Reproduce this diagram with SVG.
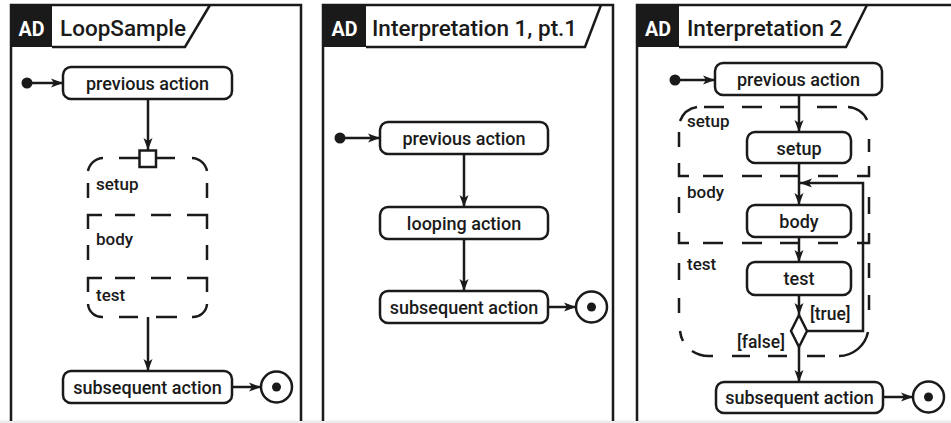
<svg xmlns="http://www.w3.org/2000/svg" width="951" height="423" viewBox="0 0 951 423">
  <style>
    .frame { fill: none; stroke: #1a1a1a; stroke-width: 2.5; }
    .tab { fill: none; stroke: #1a1a1a; stroke-width: 2.5; }
    .badge { fill: #1a1a1a; }
    .badge-t { font-family: Roboto, "Liberation Sans", Arial, sans-serif; font-weight: 700; font-size: 21px; fill: #fff; text-anchor: middle; }
    .title { font-family: Roboto, "Liberation Sans", Arial, sans-serif; font-weight: 500; font-size: 22.5px; fill: #1a1a1a; }
    .act rect { fill: #fff; stroke: #1a1a1a; stroke-width: 2.5; }
    .act text { font-family: Roboto, "Liberation Sans", Arial, sans-serif; font-weight: 500; font-size: 18px; fill: #1a1a1a; text-anchor: middle; }
    .lbl { font-family: Roboto, "Liberation Sans", Arial, sans-serif; font-weight: 500; font-size: 17px; fill: #1a1a1a; }
    .guard { font-family: Roboto, "Liberation Sans", Arial, sans-serif; font-weight: 500; font-size: 17.5px; fill: #1a1a1a; }
    .edge { fill: none; stroke: #1a1a1a; stroke-width: 2.5; marker-end: url(#arr); }
    .dash { fill: none; stroke: #1a1a1a; stroke-width: 2.5; }
    .start { fill: #1a1a1a; }
    .final circle.ring { fill: #fff; stroke: #1a1a1a; stroke-width: 2.5; }
    .final circle.dot { fill: #1a1a1a; }
  </style>
  <defs>
    <marker id="arr" markerUnits="userSpaceOnUse" markerWidth="12" markerHeight="10" refX="12" refY="5" orient="auto">
      <path d="M0,0.5 L12,5 L0,9.5 L3,5 Z" fill="#1a1a1a"/>
    </marker>
  </defs>

  <rect x="0" y="0" width="951" height="423" fill="#fff"/>
  <rect x="0" y="420.5" width="951" height="2.5" fill="#ececec"/>

  <!-- ===== Frame 1: LoopSample ===== -->
  <g id="frame-loopsample">
    <path class="frame" d="M11,421 V5 H301 V421"/>
    <rect class="badge" x="11" y="5" width="41" height="42"/>
    <text class="badge-t" x="31.5" y="36" textLength="26" lengthAdjust="spacingAndGlyphs">AD</text>
    <path class="tab" d="M52,47 H185 L210,5"/>
    <text class="title" x="60" y="36">LoopSample</text>
  </g>

  <g id="ls-start"><circle class="start" cx="27" cy="83" r="5.5"/></g>
  <g id="ls-previous" class="act">
    <rect x="63" y="67" width="169" height="32" rx="8"/>
    <text x="147.5" y="90">previous action</text>
  </g>
  <g id="ls-loopnode">
    <!-- setup section -->
    <path class="dash" d="M88,171 A16,16 0 0 1 103,158 M119,158 H139 M156,158 H175 M192,158 A16,16 0 0 1 207,171 M88,183 V198 M207,183 V198"/>
    <rect x="139.5" y="150.5" width="16.5" height="16.5" fill="#fff" stroke="#1a1a1a" stroke-width="2.5"/>
    <text class="lbl" x="96" y="190">setup</text>
    <!-- body section -->
    <path class="dash" d="M88,229 V215 H102 M115,215 H135 M151,215 H171 M187,215 H207 V229 M88,245 V260 M207,245 V260"/>
    <text class="lbl" x="96" y="245">body</text>
    <!-- test section -->
    <path class="dash" d="M88,292 V278 H102 M115,278 H135 M151,278 H171 M187,278 H207 V292 M88,304 A14,14 0 0 0 103,317 M119,317 H138 M156,317 H177 M192,317 A14,14 0 0 0 207,304"/>
    <text class="lbl" x="96" y="301">test</text>
  </g>
  <g id="ls-subsequent" class="act">
    <rect x="63" y="371" width="169" height="32" rx="8"/>
    <text x="147.5" y="394">subsequent action</text>
  </g>
  <g id="ls-final" class="final">
    <circle class="ring" cx="276.5" cy="387" r="15.5"/>
    <circle class="dot" cx="276.5" cy="387" r="4.5"/>
  </g>

  <!-- ===== Frame 2: Interpretation 1 ===== -->
  <g id="frame-interp1">
    <path class="frame" d="M323,421 V5 H613 V421"/>
    <rect class="badge" x="323" y="5" width="43" height="42"/>
    <text class="badge-t" x="344.5" y="36" textLength="26" lengthAdjust="spacingAndGlyphs">AD</text>
    <path class="tab" d="M366,47 H585 L601,5"/>
    <text class="title" x="372" y="36">Interpretation 1, pt.1</text>
  </g>

  <g id="i1-start"><circle class="start" cx="340" cy="138" r="5.5"/></g>
  <g id="i1-previous" class="act">
    <rect x="380" y="122" width="168" height="32" rx="8"/>
    <text x="464" y="145">previous action</text>
  </g>
  <g id="i1-looping" class="act">
    <rect x="380" y="207" width="168" height="32" rx="8"/>
    <text x="464" y="230">looping action</text>
  </g>
  <g id="i1-subsequent" class="act">
    <rect x="380" y="291" width="168" height="32" rx="8"/>
    <text x="464" y="314">subsequent action</text>
  </g>
  <g id="i1-final" class="final">
    <circle class="ring" cx="591.5" cy="307" r="15.5"/>
    <circle class="dot" cx="591.5" cy="307" r="4.5"/>
  </g>

  <!-- ===== Frame 3: Interpretation 2 ===== -->
  <g id="frame-interp2">
    <path class="frame" d="M637,421 V5 H953"/>
    <rect class="badge" x="637" y="5" width="42" height="42"/>
    <text class="badge-t" x="658" y="36" textLength="26" lengthAdjust="spacingAndGlyphs">AD</text>
    <path class="tab" d="M679,47 H846 L867,5"/>
    <text class="title" x="687" y="36">Interpretation 2</text>
  </g>

  <g id="i2-loopnode">
    <!-- setup region -->
    <path class="dash" d="M680,121 A22,22 0 0 1 697,107 M704,107 H724 M742,107 H762 M780,107 H800 M817,107 H837 M848,107 A22,22 0 0 1 867,120 M679,132 V147 M869,139 V152"/>
    <text class="lbl" x="687" y="127">setup</text>
    <!-- body region -->
    <path class="dash" d="M679,163 V176 H689 M703,176 H723 M742,176 H762 M780,176 H800 M818,176 H838 M857,176 H869 V166 M679,197 V213 M869,197 V214"/>
    <text class="lbl" x="687" y="198">body</text>
    <!-- test region -->
    <path class="dash" d="M679,232 V243 H689 M703,243 H723 M742,243 H762 M780,243 H800 M818,243 H838 M857,243 H869 V233 M679,263 V280 M679,298 V313 M869,263 V278 M869,295 V310 M680,331 A30,30 0 0 0 683,341 M692,351 A30,30 0 0 0 709,356 H713 M732,356 H750 M768,356 H787 M807,356 H825 M839,356 A30,30 0 0 0 868,332"/>
    <text class="lbl" x="687" y="270">test</text>
  </g>

  <g id="i2-start"><circle class="start" cx="675" cy="80" r="5.5"/></g>
  <g id="i2-previous" class="act">
    <rect x="715" y="63" width="167" height="32" rx="8"/>
    <text x="798.5" y="86">previous action</text>
  </g>
  <g id="i2-setup" class="act">
    <rect x="747" y="132" width="104" height="31" rx="8"/>
    <text x="799" y="155">setup</text>
  </g>
  <g id="i2-body" class="act">
    <rect x="747" y="205" width="104" height="32" rx="8"/>
    <text x="799" y="228">body</text>
  </g>
  <g id="i2-test" class="act">
    <rect x="747" y="262" width="104" height="33" rx="8"/>
    <text x="799" y="285">test</text>
  </g>
  <g id="i2-decision">
    <path d="M799,315 L807,331 L799,347 L791,331 Z" fill="#fff" stroke="#1a1a1a" stroke-width="2.5"/>
  </g>
  <g id="i2-subsequent" class="act">
    <rect x="716" y="382" width="167" height="31" rx="8"/>
    <text x="799.5" y="404">subsequent action</text>
  </g>
  <g id="i2-final" class="final">
    <circle class="ring" cx="928.5" cy="397" r="15.5"/>
    <circle class="dot" cx="928.5" cy="397" r="4.5"/>
  </g>

  <!-- ===== Connectors ===== -->
  <g id="connectors">
    <path class="edge" d="M32,83 H63"/>
    <path class="edge" d="M148,99 V150"/>
    <path class="edge" d="M148,317 V371"/>
    <path class="edge" d="M232,387 H261"/>

    <path class="edge" d="M345,138 H380"/>
    <path class="edge" d="M464,154 V207"/>
    <path class="edge" d="M464,239 V291"/>
    <path class="edge" d="M548,307 H576"/>

    <path class="edge" d="M680,80 H715"/>
    <path class="edge" d="M799,95 V132"/>
    <path class="edge" d="M799,163 V205"/>
    <path class="edge" d="M799,237 V262"/>
    <path class="edge" d="M799,295 V315"/>
    <path class="edge" d="M807,331 H863 V183 H800"/>
    <path class="edge" d="M799,347 V382"/>
    <path class="edge" d="M883,397 H913"/>

    <text class="guard" x="810" y="320">[true]</text>
    <text class="guard" x="737" y="348">[false]</text>
  </g>
</svg>
